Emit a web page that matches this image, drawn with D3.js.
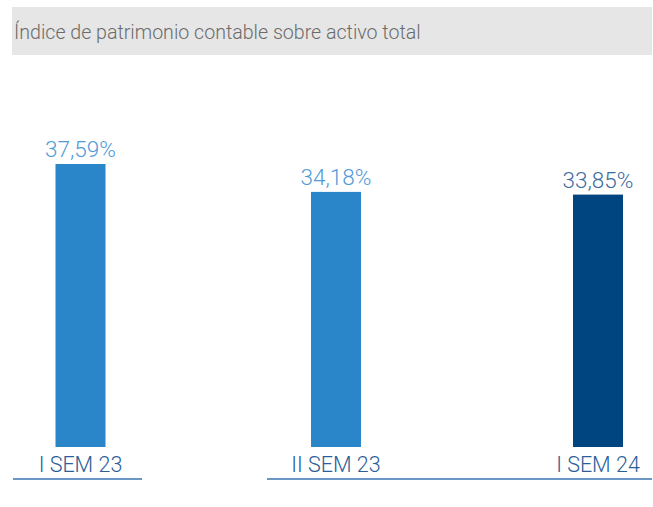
<!DOCTYPE html>
<html lang="es">
<head>
<meta charset="utf-8">
<title>Índice de patrimonio contable sobre activo total</title>
<script src="https://cdn.jsdelivr.net/npm/d3@7"></script>
<style>
  body { margin: 0; background: #fff; }
  text { font-family: Roboto, "Open Sans", sans-serif; }
</style>
</head>
<body>
<script>
// data
var categories = ["I SEM 23", "II SEM 23", "I SEM 24"];
var values = [37.59, 34.18, 33.85];
var valueLabels = ["37,59%", "34,18%", "33,85%"];
var titleText = "Índice de patrimonio contable sobre activo total";

var W = 653, H = 507;
var svg = d3.select("body").append("svg").attr("width", W).attr("height", H);

// title box
svg.append("rect").attr("x", 12).attr("y", 7).attr("width", 640).attr("height", 48).attr("fill", "#e6e6e6");
svg.append("text").attr("x", 14).attr("y", 38.5).text(titleText)
   .attr("font-size", 19.6).attr("font-weight", 300).attr("fill", "#6b6b6b");

// scales (bars are not evenly spaced in the original)
var x = d3.scaleOrdinal().domain(categories).range([80.5, 336, 598]);
var y = d3.scaleLinear().domain([3, 37.59]).range([447, 164]);
var barW = 50;
var barColors = ["#2a85c9", "#2a85c9", "#00457f"];
var labelColors = ["#4f9bd8", "#4f9bd8", "#3d6b9f"];

svg.selectAll("rect.bar").data(values).enter().append("rect")
   .attr("class", "bar")
   .attr("x", function(d, i) { return x(categories[i]) - barW / 2; })
   .attr("y", function(d) { return y(d); })
   .attr("width", barW)
   .attr("height", function(d) { return y(3) - y(d); })
   .attr("fill", function(d, i) { return barColors[i]; });

svg.selectAll("text.val").data(values).enter().append("text")
   .attr("class", "val")
   .attr("x", function(d, i) { return x(categories[i]); })
   .attr("y", function(d) { return y(d) - 7; })
   .attr("text-anchor", "middle")
   .attr("font-size", 22.5).attr("font-weight", 300)
   .attr("fill", function(d, i) { return labelColors[i]; })
   .text(function(d, i) { return valueLabels[i]; });

// category labels
svg.selectAll("text.cat").data(categories).enter().append("text")
   .attr("class", "cat")
   .attr("x", function(d) { return x(d); })
   .attr("y", 472)
   .attr("text-anchor", "middle")
   .attr("font-size", 21.5).attr("font-weight", 300)
   .attr("fill", "#2b5e98")
   .text(function(d) { return d; });

// underlines
svg.append("line").attr("x1", 13).attr("x2", 142).attr("y1", 479).attr("y2", 479)
   .attr("stroke", "#3a74b0").attr("stroke-width", 1.3);
svg.append("line").attr("x1", 267).attr("x2", 652).attr("y1", 479).attr("y2", 479)
   .attr("stroke", "#3a74b0").attr("stroke-width", 1.3);
</script>
</body>
</html>
